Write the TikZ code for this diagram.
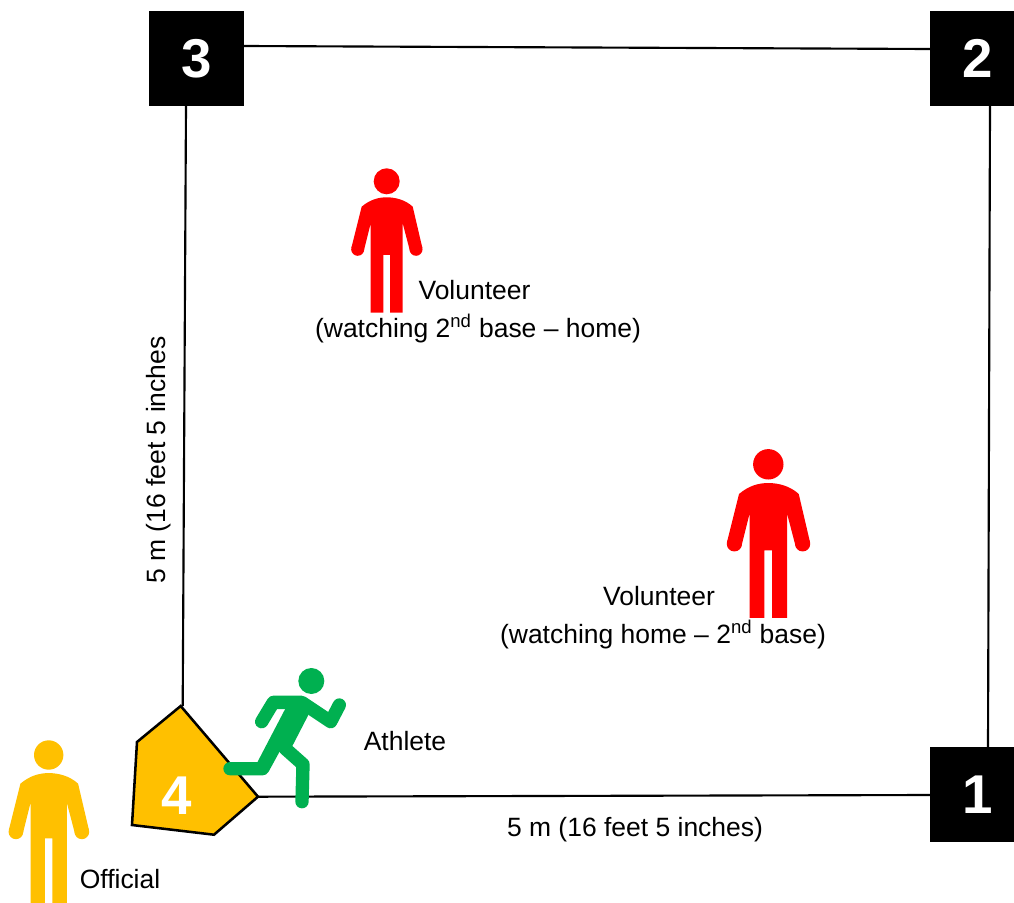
\documentclass[tikz,border=0pt]{standalone}
\usepackage{fontspec}
\setmainfont{Liberation Sans}
\definecolor{offgold}{RGB}{255,192,0}
\definecolor{rungreen}{RGB}{0,176,80}
\tikzset{
  x=0.75pt,y=-0.75pt,
  base/.style={fill=black,text=white,minimum size=71.25pt,inner sep=0pt,font=\fontsize{41}{41}\selectfont\bfseries},
  lbl/.style={font=\fontsize{19.85}{24}\selectfont,inner sep=0pt,align=center},
  edge/.style={draw=black,line width=1.6pt},
  limb/.style={rungreen,line width=10pt,line cap=round,line join=round},
  pics/person/.style={code={
    \begin{scope}[x=0.25pt,y=-0.25pt]
    \fill[#1] (0,0) circle[radius=39];
    \fill[#1] (-75,76) .. controls (-50,55) and (-25,48) .. (0,48)
      .. controls (25,48) and (55,55) .. (78,76)
      -- (107,200) -- (70,210) -- (48,126) -- (48,394) -- (10,394) -- (10,221)
      -- (-10,221) -- (-10,394) -- (-48,394) -- (-48,126) -- (-69,210) -- (-106,200) -- cycle;
    \fill[#1] (88,204) circle[radius=19.5];
    \fill[#1] (-87,204) circle[radius=19.5];
    \end{scope}
  }}
}
\begin{document}
\begin{tikzpicture}
\useasboundingbox (0,0) rectangle (1014,903);
\clip (0,0) rectangle (1014,903);
\fill[white] (0,0) rectangle (1014,903);
% bases
\node[base] (b3) at (196.5,58.5) {3};
\node[base] (b2) at (977.5,58.5) {2};
\node[base] (b1) at (977.5,794.5) {1};
% home plate
\coordinate (h1) at (180.7,706);
\coordinate (h2) at (137,742);
\coordinate (h3) at (132,825);
\coordinate (h4) at (214,834.7);
\coordinate (h5) at (258,796.7);
\filldraw[fill=offgold,draw=black,line width=1.9pt,line join=miter] (h1) -- (h2) -- (h3) -- (h4) -- (h5) -- cycle;
\node[font=\fontsize{41}{41}\selectfont\bfseries,text=white,inner sep=0pt] (b4) at (177,796) {4};
% connectors
\coordinate (c32a) at (244,46);
\coordinate (c32b) at (930,49);
\coordinate (c21a) at (990,106);
\coordinate (c21b) at (988,747);
\coordinate (c14a) at (930,795);
\coordinate (c34a) at (186,106);
\coordinate (c34b) at (182.7,706);
\draw[edge] (c32a) -- (c32b);
\draw[edge] (c21a) -- (c21b);
\draw[edge] (c14a) -- (h5);
\draw[edge] (c34a) -- (c34b);
% people
\pic at (386.7,181.3) {person=red};
\pic[scale=1.17] at (768.3,464.3) {person=red};
\pic[scale=1.13] at (48.7,755) {person=offgold};
% runner
\begin{scope}[x=0.25pt,y=-0.25pt,shift={(165pt,-495pt)}]
  \fill[rungreen] (274,63) circle[radius=39];
  \draw[limb] (125,185) -- (160,127) -- (245,127) -- (332,185) -- (358,135);
  \draw[limb] (30,326) -- (128,326) -- (175,240);
  \draw[limb] (195,265) -- (249,313) -- (246,425);
  \fill[rungreen] (196,146) -- (113,305) -- (140,340) -- (175,272) -- (217,258) -- (265,165) -- (248,108) -- (196,108) -- cycle;
\end{scope}
% labels
\node[lbl] (v1) at (474.5,290) {Volunteer};
\node[lbl] (v1b) at (478,329) {(watching 2\textsuperscript{nd} base – home)};
\node[lbl] (v2) at (659,596) {Volunteer};
\node[lbl] (v2b) at (663,635) {(watching home – 2\textsuperscript{nd} base)};
\node[lbl] (la) at (405,741) {Athlete};
\node[lbl] (lo) at (120,879) {Official};
\node[lbl] (lh) at (635,830) {5 m (16 feet 5 inches)};
\node[lbl,rotate=90] (lv) at (159,460) {5 m (16 feet 5 inches};
\end{tikzpicture}
\end{document}
